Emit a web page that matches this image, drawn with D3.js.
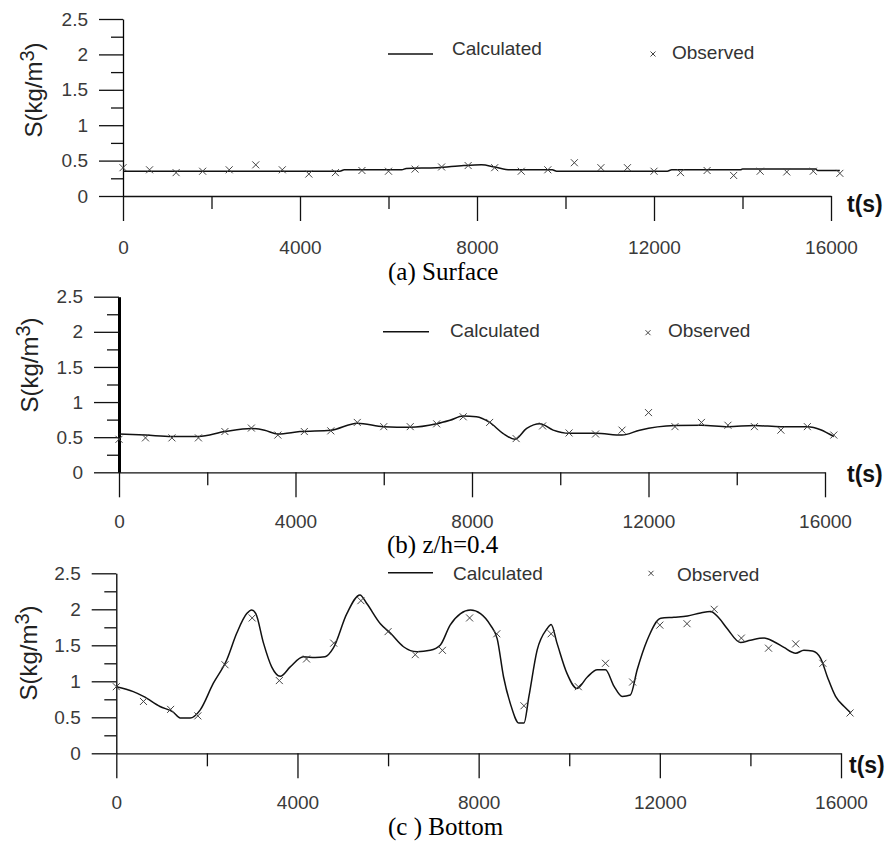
<!DOCTYPE html>
<html>
<head>
<meta charset="utf-8">
<script src="https://cdn.jsdelivr.net/npm/d3@7"></script>
<style>
body { margin: 0; background: #fff; }
svg { display: block; font-family: "Liberation Sans", Arial, sans-serif; }
</style>
</head>
<body>
<svg width="889" height="843"></svg>
<script>
// observed samples, every 600 s
const obsTime = [0, 600, 1200, 1800, 2400, 3000, 3600, 4200, 4800, 5400, 6000, 6600, 7200, 7800,
  8400, 9000, 9600, 10200, 10800, 11400, 12000, 12600, 13200, 13800, 14400, 15000, 15600, 16200]
const obsSurface = [0.40, 0.37, 0.33, 0.35, 0.37, 0.44, 0.37, 0.31, 0.33, 0.36, 0.35, 0.38, 0.41, 0.43,
  0.40, 0.35, 0.37, 0.47, 0.40, 0.40, 0.35, 0.33, 0.36, 0.29, 0.35, 0.34, 0.35, 0.32]
const obsMid = [0.47, 0.49, 0.49, 0.49, 0.58, 0.63, 0.53, 0.58, 0.59, 0.71, 0.65, 0.65, 0.69, 0.79,
  0.71, 0.48, 0.66, 0.56, 0.545, 0.60, 0.85, 0.65, 0.71, 0.67, 0.65, 0.60, 0.65, 0.53]
const obsBottom = [0.925, 0.72, 0.61, 0.52, 1.23, 1.88, 1.01, 1.31, 1.53, 2.12, 1.69, 1.37, 1.43, 1.88,
  1.66, 0.66, 1.66, 0.925, 1.25, 0.99, 1.78, 1.80, 2.0, 1.60, 1.46, 1.52, 1.25, 0.56]

// calculated curves
const calcSurfaceT = [0, 4900, 5000, 6300, 6400, 7100, 7700, 8100, 8400, 8750, 9700, 9800, 12300, 12400,
  13950, 14000, 15650, 15700, 16200]
const calcSurface = [0.35, 0.35, 0.37, 0.37, 0.39, 0.40, 0.43, 0.44, 0.41, 0.37, 0.37, 0.35, 0.35, 0.37,
  0.37, 0.38, 0.38, 0.36, 0.36]

const calcMidT = [0, 600, 1200, 1800, 2400, 3000, 3300, 3600, 4100, 4800, 5400, 6000, 6600, 7200, 7500,
  7800, 8100, 8400, 8700, 8970, 9240, 9540, 9840, 10200, 10800, 11400, 11800, 12600, 13200, 13800,
  14400, 15000, 15600, 16200]
const calcMid = [0.545, 0.53, 0.51, 0.51, 0.58, 0.625, 0.60, 0.545, 0.58, 0.60, 0.70, 0.65, 0.64, 0.69, 0.74,
  0.80, 0.79, 0.71, 0.555, 0.47, 0.625, 0.69, 0.60, 0.555, 0.555, 0.53, 0.60, 0.665, 0.67, 0.65,
  0.665, 0.65, 0.65, 0.51]

const calcBottomT = [0, 375, 600, 965, 1260, 1410, 1630, 1850, 2140, 2440, 2660, 2880, 2990, 3080, 3250,
  3430, 3620, 3840, 4130, 4390, 4610, 4790, 5090, 5380, 5530, 5830, 6050, 6340, 6640, 6930,
  7150, 7370, 7600, 7820, 8040, 8260, 8410, 8550, 8700, 8890, 9000, 9110, 9290, 9510, 9600,
  9730, 9950, 10170, 10400, 10620, 10800, 10990, 11170, 11350, 11500, 11720, 12020, 12310, 12610, 12900,
  13120, 13310, 13490, 13780, 14000, 14300, 14520, 14740, 15000, 15180, 15370, 15550, 15700, 15880, 16070,
  16220]
const calcBottom = [0.925, 0.856, 0.79, 0.65, 0.57, 0.49, 0.49, 0.60, 0.97, 1.30, 1.67, 1.94, 1.99, 1.94, 1.53,
  1.20, 1.07, 1.20, 1.34, 1.33, 1.34, 1.46, 1.94, 2.2, 2.08, 1.80, 1.67, 1.48, 1.41, 1.43,
  1.50, 1.78, 1.94, 1.99, 1.94, 1.78, 1.59, 1.06, 0.69, 0.42, 0.42, 0.79, 1.43, 1.73, 1.79,
  1.53, 1.11, 0.90, 1.06, 1.16, 1.16, 0.93, 0.79, 0.81, 1.16, 1.57, 1.875, 1.89, 1.907, 1.95,
  1.97, 1.875, 1.73, 1.54, 1.57, 1.60, 1.55, 1.47, 1.39, 1.43, 1.42, 1.32, 1.06, 0.79, 0.65,
  0.56]

const xTicks = [0, 4000, 8000, 12000, 16000]
const xTickLabels = ['0', '4000', '8000', '12000', '16000']
const xMinor = [2000, 6000, 10000, 14000]
const yTicks = [0, 0.5, 1, 1.5, 2, 2.5]
const yTickLabels = ['0', '0.5', '1', '1.5', '2', '2.5']
const yMinor = [0.25, 0.75, 1.25, 1.75, 2.25]

const captions = ['(a) Surface', '(b) z/h=0.4', '(c ) Bottom']

// layout of each panel (pixels)
const panels = [
  {obs: obsSurface, ct: calcSurfaceT, cv: calcSurface, x0: 123, x1: 831, yTop: 19, yBot: 196,
   yTick: 24, yPad: 11, xPad: 20, yAxisW: 1.3, titleX: 42, titleY: 90,
   lx0: 388, lx1: 433, ly: 54, cx: 452, cby: 55, mx: 653, my: 54, ox: 672, oby: 59,
   tx: 847, tby: 212, capX: 388, capY: 280},
  {obs: obsMid, ct: calcMidT, cv: calcMid, x0: 119, x1: 825, yTop: 296.7, yBot: 472.3,
   yTick: 25, yPad: 11, xPad: 17, yAxisW: 3, titleX: 38, titleY: 365,
   lx0: 383, lx1: 429, ly: 331.7, cx: 450, cby: 337, mx: 648, my: 332.7, ox: 668, oby: 337,
   tx: 847, tby: 482, capX: 387, capY: 553},
  {obs: obsBottom, ct: calcBottomT, cv: calcBottom, x0: 116.3, x1: 841, yTop: 573.3, yBot: 753.3,
   yTick: 24.6, yPad: 11, xPad: 17, yAxisW: 1.3, titleX: 36.5, titleY: 653,
   lx0: 388, lx1: 433, ly: 572.7, cx: 453, cby: 580, mx: 651, my: 573.3, ox: 677, oby: 581,
   tx: 849, tby: 773, capX: 388, capY: 835}
]

const svg = d3.select('svg')
const cross = r => `M${-r},${-r}L${r},${r}M${-r},${r}L${r},${-r}`

panels.forEach((p, k) => {
  const x = d3.scaleLinear().domain([0, 16000]).range([p.x0, p.x1])
  const y = d3.scaleLinear().domain([0, 2.5]).range([p.yBot, p.yTop])
  const g = svg.append('g')

  // minor ticks
  const ym = g.append('g').attr('transform', `translate(${p.x0},0)`)
    .call(d3.axisLeft(y).tickValues(yMinor).tickSize(12).tickFormat(''))
  ym.select('.domain').remove()
  const xm = g.append('g').attr('transform', `translate(0,${p.yBot})`)
    .call(d3.axisBottom(x).tickValues(xMinor).tickSize(13).tickFormat(''))
  xm.select('.domain').remove()

  // major axes
  const ya = g.append('g').attr('transform', `translate(${p.x0},0)`)
    .call(d3.axisLeft(y).tickValues(yTicks).tickSize(p.yTick).tickSizeOuter(0)
      .tickPadding(p.yPad).tickFormat((d, i) => yTickLabels[i]))
  ya.select('.domain').attr('stroke-width', p.yAxisW)
  const xa = g.append('g').attr('transform', `translate(0,${p.yBot})`)
    .call(d3.axisBottom(x).tickValues(xTicks).tickSize(25).tickSizeOuter(0)
      .tickPadding(p.xPad).tickFormat((d, i) => xTickLabels[i]))

  g.selectAll('.tick line').attr('stroke', '#111').attr('stroke-width', 1.3)
  xa.select('.domain').attr('stroke', '#111').attr('stroke-width', 1.3)
  g.selectAll('.tick text').attr('font-size', 19).attr('fill', '#3a3a3a')
    .attr('font-family', '"Liberation Sans", Arial, sans-serif')
  g.selectAll('g').attr('font-size', null).attr('font-family', null)

  // calculated line
  const line = d3.line().x(d => x(d[0])).y(d => y(d[1])).curve(d3.curveMonotoneX)
  g.append('path').datum(d3.zip(p.ct, p.cv))
    .attr('d', line).attr('fill', 'none').attr('stroke', '#111').attr('stroke-width', 1.5)

  // observed
  g.selectAll('.obs').data(d3.zip(obsTime, p.obs)).enter().append('path')
    .attr('class', 'obs')
    .attr('transform', d => `translate(${x(d[0])},${y(d[1])})`)
    .attr('d', cross(3.5)).attr('stroke', '#444').attr('stroke-width', 1).attr('fill', 'none')

  // y title
  const tt = g.append('text')
    .attr('transform', `translate(${p.titleX},${p.titleY}) rotate(-90)`)
    .attr('text-anchor', 'middle').attr('font-size', 24).attr('fill', '#222')
  tt.append('tspan').text('S(kg/m')
  tt.append('tspan').attr('font-size', 20).attr('dy', -8).text('3')
  tt.append('tspan').attr('dy', 8).text(')')

  // t(s)
  g.append('text').attr('x', p.tx).attr('y', p.tby)
    .attr('font-size', 23).attr('font-weight', 'bold').attr('fill', '#111').text('t(s)')

  // legend
  g.append('line').attr('x1', p.lx0).attr('x2', p.lx1).attr('y1', p.ly).attr('y2', p.ly)
    .attr('stroke', '#111').attr('stroke-width', 1.5)
  g.append('text').attr('x', p.cx).attr('y', p.cby).attr('font-size', 19).attr('fill', '#333')
    .text('Calculated')
  g.append('path').attr('transform', `translate(${p.mx},${p.my})`)
    .attr('d', cross(2.5)).attr('stroke', '#444').attr('stroke-width', 1)
  g.append('text').attr('x', p.ox).attr('y', p.oby).attr('font-size', 19).attr('fill', '#333')
    .text('Observed')

  // caption
  g.append('text').attr('x', p.capX).attr('y', p.capY)
    .attr('font-family', '"Liberation Serif", "Times New Roman", serif')
    .attr('font-size', 25).attr('fill', '#000').text(captions[k])
})
</script>
</body>
</html>
